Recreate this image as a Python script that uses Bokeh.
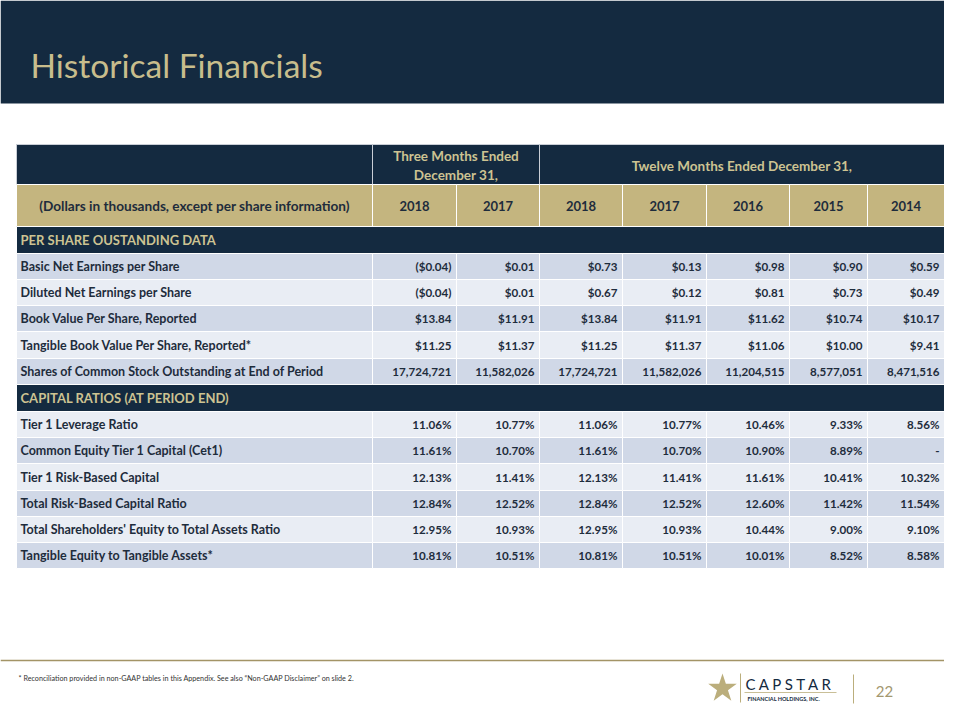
from bokeh.plotting import figure
from bokeh.models import Range1d, ColumnDataSource
from bokeh.core.properties import value
from bokeh.embed import file_html
from bokeh.resources import INLINE

# ---------------- data ----------------
title_text = "Historical Financials"
group_three = ["Three Months Ended", "December 31,"]
group_twelve = "Twelve Months Ended December 31,"
unit_label = "(Dollars in thousands, except per share information)"
years = ["2018", "2017", "2018", "2017", "2016", "2015", "2014"]

section_per_share = "PER SHARE OUSTANDING DATA"
per_share_labels = [
    "Basic Net Earnings per Share",
    "Diluted Net Earnings per Share",
    "Book Value Per Share, Reported",
    "Tangible Book Value Per Share, Reported*",
    "Shares of Common Stock Outstanding at End of Period",
]
basic_eps = ["($0.04)", "$0.01", "$0.73", "$0.13", "$0.98", "$0.90", "$0.59"]
diluted_eps = ["($0.04)", "$0.01", "$0.67", "$0.12", "$0.81", "$0.73", "$0.49"]
book_value = ["$13.84", "$11.91", "$13.84", "$11.91", "$11.62", "$10.74", "$10.17"]
tangible_bv = ["$11.25", "$11.37", "$11.25", "$11.37", "$11.06", "$10.00", "$9.41"]
shares_out = ["17,724,721", "11,582,026", "17,724,721", "11,582,026",
              "11,204,515", "8,577,051", "8,471,516"]

section_capital = "CAPITAL RATIOS (AT PERIOD END)"
capital_labels = [
    "Tier 1 Leverage Ratio",
    "Common Equity Tier 1 Capital (Cet1)",
    "Tier 1 Risk-Based  Capital",
    "Total Risk-Based  Capital Ratio",
    "Total Shareholders' Equity to Total Assets Ratio",
    "Tangible  Equity to Tangible  Assets*",
]
tier1_leverage = ["11.06%", "10.77%", "11.06%", "10.77%", "10.46%", "9.33%", "8.56%"]
cet1 = ["11.61%", "10.70%", "11.61%", "10.70%", "10.90%", "8.89%", "-"]
tier1_risk = ["12.13%", "11.41%", "12.13%", "11.41%", "11.61%", "10.41%", "10.32%"]
total_risk = ["12.84%", "12.52%", "12.84%", "12.52%", "12.60%", "11.42%", "11.54%"]
equity_assets = ["12.95%", "10.93%", "12.95%", "10.93%", "10.44%", "9.00%", "9.10%"]
tangible_equity = ["10.81%", "10.51%", "10.81%", "10.51%", "10.01%", "8.52%", "8.58%"]

footnote = ("*  Reconciliation provided in non-GAAP tables in this Appendix.  "
            "See  also \u201cNon-GAAP Disclaimer\u201d on slide 2.")
logo_name = "C A P S T A R"
logo_sub = "FINANCIAL HOLDINGS, INC."
page_number = "22"

# ---------------- layout / style ----------------
NAVY = "#142A40"
TAN_HEAD = "#C4B57F"
TAN_TEXT = "#CDC392"
TITLE_TAN = "#C8BD8C"
ROW_DARK = "#D0D8E7"
ROW_LIGHT = "#E9EDF4"
TXT = "#1E2C3C"
FONT = "Lato"

col_edges = [16, 372, 456, 539, 622, 706, 789, 867, 944]
hdr1 = (144, 184)
hdr2 = (184, 226)
sec1 = (226, 253)
ps_edges = [253, 279, 305, 331, 358, 384]
sec2 = (384, 411)
cap_edges = [411, 437, 463, 490, 516, 542, 568]

W, H = 944, 704
p = figure(width=W, height=H, x_range=Range1d(0, W), y_range=Range1d(H, 0),
           output_backend="svg", toolbar_location=None, min_border=0,
           x_axis_type=None, y_axis_type=None, outline_line_color=None,
           background_fill_color="white", border_fill_color="white")
p.grid.visible = False

# title band
p.quad(left=[0], right=[960], top=[0], bottom=[103], fill_color=NAVY, line_color=None)
p.text(x=[30], y=[64], text=[title_text], text_font=value(FONT), text_font_size="33.5px",
       text_color=TITLE_TAN, text_baseline="alphabetic", text_align="left")

# header row 1
p.quad(left=[col_edges[0], col_edges[1], col_edges[3]],
       right=[col_edges[1], col_edges[3], col_edges[-1]],
       top=[hdr1[0]] * 3, bottom=[hdr1[1]] * 3,
       fill_color=NAVY, line_color="#C9CED6", line_width=1)
mid3 = (col_edges[1] + col_edges[3]) / 2
p.text(x=[mid3, mid3], y=[155, 174], text=group_three, text_font=value(FONT),
       text_font_size="13.5px", text_font_style="bold", text_color=TAN_TEXT,
       text_align="center", text_baseline="middle")
p.text(x=[(col_edges[3] + col_edges[-1]) / 2], y=[165], text=[group_twelve],
       text_font=value(FONT), text_font_size="13.5px", text_font_style="bold",
       text_color=TAN_TEXT, text_align="center", text_baseline="middle")

# header row 2
p.quad(left=col_edges[:-1], right=col_edges[1:], top=[hdr2[0]] * 8, bottom=[hdr2[1]] * 8,
       fill_color=TAN_HEAD, line_color="white", line_width=1)
ymid2 = (hdr2[0] + hdr2[1]) / 2
p.text(x=[(col_edges[0] + col_edges[1]) / 2], y=[ymid2], text=[unit_label],
       text_font=value(FONT), text_font_size="13.6px", text_font_style="bold",
       text_color=TXT, text_align="center", text_baseline="middle")
p.text(x=[(col_edges[i] + col_edges[i + 1]) / 2 for i in range(1, 8)], y=[ymid2] * 7,
       text=years, text_font=value(FONT), text_font_size="13px", text_font_style="bold",
       text_color=TXT, text_align="center", text_baseline="middle")

# section rows
for (t, b), name in [(sec1, section_per_share), (sec2, section_capital)]:
    p.quad(left=[col_edges[0]], right=[col_edges[-1]], top=[t], bottom=[b],
           fill_color=NAVY, line_color="white", line_width=1)
    p.text(x=[20], y=[(t + b) / 2], text=[name], text_font=value(FONT),
           text_font_size="13px", text_font_style="bold", text_color=TAN_TEXT,
           text_align="left", text_baseline="middle")

# data rows
def draw_rows(edges, labels, values, start_dark):
    L, R, T, B, C = [], [], [], [], []
    tx, ty, tt = [], [], []
    vx, vy, vt = [], [], []
    for i, (lab, vals) in enumerate(zip(labels, values)):
        t, b = edges[i], edges[i + 1]
        col = ROW_DARK if (i % 2 == 0) == start_dark else ROW_LIGHT
        for j in range(8):
            L.append(col_edges[j]); R.append(col_edges[j + 1]); T.append(t); B.append(b); C.append(col)
        tx.append(20); ty.append((t + b) / 2); tt.append(lab)
        for j, v in enumerate(vals):
            vx.append(col_edges[j + 2] - 5); vy.append((t + b) / 2); vt.append(v)
    p.quad(source=ColumnDataSource(dict(left=L, right=R, top=T, bottom=B, color=C)),
           left="left", right="right", top="top", bottom="bottom",
           fill_color="color", line_color="white", line_width=1)
    p.text(x=tx, y=ty, text=tt, text_font=value(FONT), text_font_size="12.5px",
           text_font_style="bold", text_color=TXT, text_align="left", text_baseline="middle")
    p.text(x=vx, y=vy, text=vt, text_font=value(FONT), text_font_size="11.6px",
           text_font_style="bold", text_color=TXT, text_align="right", text_baseline="middle")

draw_rows(ps_edges, per_share_labels,
          [basic_eps, diluted_eps, book_value, tangible_bv, shares_out], True)
draw_rows(cap_edges, capital_labels,
          [tier1_leverage, cet1, tier1_risk, total_risk, equity_assets, tangible_equity], False)

# footer
p.segment(x0=[0], y0=[660], x1=[960], y1=[660], line_color="#A39466", line_width=1.5)
p.text(x=[18], y=[678], text=[footnote], text_font=value(FONT), text_font_size="7.2px",
       text_color="#333333", text_align="left", text_baseline="middle")

# logo
p.scatter(x=[722], y=[688], marker="star", size=30, fill_color="#BBAE7C", line_color=None)
p.segment(x0=[740], y0=[673], x1=[740], y1=[702], line_color="#BBAE7C", line_width=1)
p.text(x=[745], y=[683], text=[logo_name], text_font=value(FONT), text_font_size="15px",
       text_color=NAVY, text_align="left", text_baseline="middle")
p.segment(x0=[744], y0=[692], x1=[836], y1=[692], line_color="#BBAE7C", line_width=0.8)
p.text(x=[747], y=[698], text=[logo_sub], text_font=value(FONT), text_font_size="5.5px",
       text_font_style="bold", text_color=NAVY, text_align="left", text_baseline="middle")
p.segment(x0=[853], y0=[674], x1=[853], y1=[703], line_color="#BBAE7C", line_width=1)
p.text(x=[884], y=[691], text=[page_number], text_font=value(FONT), text_font_size="15px",
       text_color="#A39870", text_align="center", text_baseline="middle")

open("out.html", "w").write(file_html(p, INLINE))
